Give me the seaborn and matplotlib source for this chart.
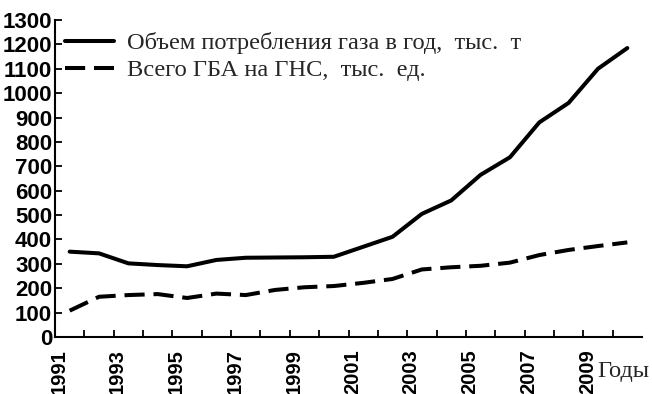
import numpy as np
import pandas as pd
import matplotlib
matplotlib.use("Agg")
import matplotlib.pyplot as plt
import matplotlib.transforms as mtransforms
import seaborn as sns

years = list(range(1991, 2011))
gas_consumption = [350, 343, 302, 295, 290, 316, 325, 326, 327, 329,
                   370, 411, 505, 560, 665, 737, 880, 960, 1100, 1185]
gba_total = [108, 165, 172, 176, 160, 178, 172, 193, 204, 209,
             222, 238, 277, 286, 292, 305, 336, 357, 373, 388]
label_gas = "Объем потребления газа в год,  тыс.  т"
label_gba = "Всего ГБА на ГНС,  тыс.  ед."
tick_years = list(range(1991, 2011))
tick_labels = [str(y) if y % 2 == 1 else "" for y in tick_years]
y_ticks = list(range(0, 1301, 100))

sns.set_style("ticks")
plt.rcParams["font.family"] = ["Liberation Sans", "DejaVu Sans"]
serif = ["Liberation Serif", "DejaVu Serif"]

# each yearly value sits in the middle of its year interval
df = pd.DataFrame({
    "x": np.array(years) + 0.5,
    "gas": gas_consumption,
    "gba": gba_total,
})

fig = plt.figure(figsize=(6.52, 3.94), dpi=100)
ax = fig.add_axes([55 / 652, 57 / 394, (642 - 55) / 652, (337 - 20) / 394])

lw = 2.9
sns.lineplot(data=df, x="x", y="gas", ax=ax, color="black", linewidth=lw,
             label=label_gas, solid_joinstyle="round")
sns.lineplot(data=df, x="x", y="gba", ax=ax, color="black", linewidth=lw,
             linestyle=(0, (5, 2.2)), label=label_gba)

ax.set_xlim(1991, 2011)
ax.set_ylim(0, 1300)
ax.set_xticks(tick_years)
ax.set_xticklabels(tick_labels, rotation=90)
ax.set_yticks(y_ticks)
ax.set_yticklabels([str(v) for v in y_ticks])
ax.set_xlabel("")
ax.set_ylabel("")

for side in ("top", "right"):
    ax.spines[side].set_visible(False)
for side in ("left", "bottom"):
    ax.spines[side].set_linewidth(1.5)
    ax.spines[side].set_color("black")

ax.tick_params(axis="both", direction="in", length=5, width=1.3, colors="black")
ax.tick_params(axis="y", pad=2, labelsize=16)
ax.tick_params(axis="x", pad=9, labelsize=14.5)
shift = mtransforms.ScaledTranslation(4 / 100, 0, fig.dpi_scale_trans)
for t in ax.get_xticklabels():
    t.set_fontweight("bold")
    t.set_transform(t.get_transform() + shift)
for t in ax.get_yticklabels():
    t.set_fontweight("bold")

leg = ax.legend(loc="upper left", bbox_to_anchor=(-0.003, 1.0), frameon=False,
                prop={"family": serif, "size": 17.6},
                handlelength=2.0, handletextpad=0.5, labelspacing=0.2,
                borderaxespad=0.1)

fig.text(597 / 652, 1 - 371 / 394, "Годы", family=serif,
         fontsize=17.6, ha="left", va="center")

fig.savefig("out.png", dpi=100)
